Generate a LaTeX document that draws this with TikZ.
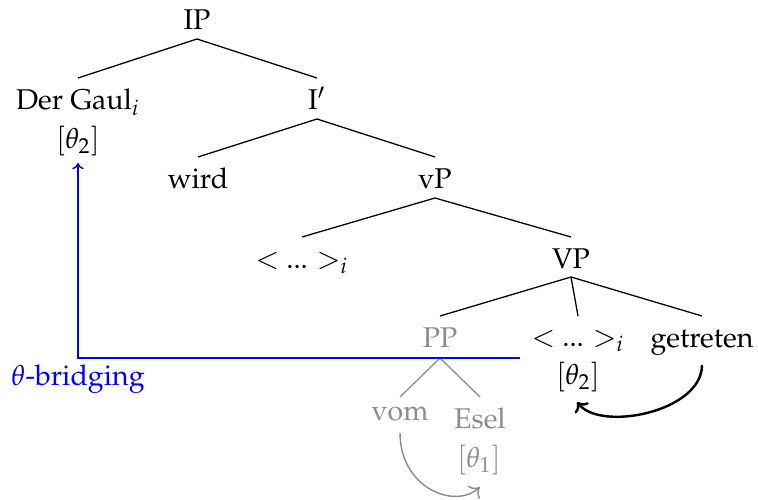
\documentclass[tikz,border=0pt]{standalone}
\usepackage[T1]{fontenc}
\usepackage{mathpazo}
\usetikzlibrary{arrows.meta}
\newcommand\tedge[5][edge]{\draw[#1] ([yshift=#3]#2.base) -- ([yshift=#5]#4.base);}
\begin{document}
\begin{tikzpicture}[x=0.35pt,y=-0.35pt,
  cat/.style={inner sep=0pt,anchor=base,font=\fontsize{10}{12}\selectfont},
  gcat/.style={cat,text=black!45},
  edge/.style={draw=black,line width=0.45pt},
  gedge/.style={draw=black!45,line width=0.45pt},
  bridge/.style={draw=blue,line width=0.5pt,-{To[length=2.2pt,width=4pt]}},
  arc/.style={draw=black,line width=0.85pt,-{To[length=3pt,width=6pt]}},
  garc/.style={draw=black!45,line width=0.5pt,-{To[length=3pt,width=6pt]}}]
\useasboundingbox (0,0) rectangle (758,499);
% nodes (placed on their baselines)
\node[cat] (IP) at (197,30) {IP};
\node[cat] (DG) at (78,110) {Der Gaul\(_i\)};
\node[cat] (DGt) at (78,148) {\([\theta_2]\)};
\node[cat] (Ibar) at (317,110) {I\('\)};
\node[cat] (wird) at (198,188) {wird};
\node[cat] (vP) at (435,188) {vP};
\node[cat] (tr1) at (302,268) {\(<\) ... \(>_i\)};
\node[cat] (VP) at (571,268) {VP};
\node[gcat] (PP) at (440,347) {PP};
\node[cat] (tr2) at (578,346) {\(<\) ... \(>_i\)};
\node[cat] (tr2t) at (578,384) {\([\theta_2]\)};
\node[cat] (get) at (702,347) {getreten};
\node[gcat] (vom) at (400,420) {vom};
\node[gcat] (Esel) at (480,428) {Esel};
\node[gcat] (Eselt) at (479,467) {\([\theta_1]\)};
\node[cat,text=blue] (tb) at (78,385) {\(\theta\)-bridging};
% tree edges
\tedge{IP}{-3.15pt}{DG}{11.2pt}
\tedge{IP}{-3.15pt}{Ibar}{11.2pt}
\tedge{Ibar}{-3.15pt}{wird}{10.85pt}
\tedge{Ibar}{-3.15pt}{vP}{10.85pt}
\tedge{vP}{-3.5pt}{tr1}{10.85pt}
\tedge{vP}{-3.5pt}{VP}{10.85pt}
\tedge{VP}{-3.15pt}{PP}{10.85pt}
\tedge{VP}{-3.15pt}{tr2}{10.5pt}
\tedge{VP}{-3.15pt}{get}{10.85pt}
\tedge[gedge]{PP}{-3.85pt}{vom}{8.05pt}
\tedge[gedge]{PP}{-3.85pt}{Esel}{10.85pt}
% theta-bridging
\coordinate (bs) at (520,358);
\draw[bridge] (bs) -| ([yshift=-5.25pt]DGt.base);
% theta arcs
\draw[arc] ([yshift=-6.3pt]get.base) .. controls (702,412) and (600,432) .. ([xshift=-0.3pt,yshift=-6.3pt]tr2t.base);
\draw[garc] ([yshift=-4.5pt]vom.base) .. controls (400,488) and (455,510) .. ([xshift=0.3pt,yshift=-7pt]Eselt.base);
\end{tikzpicture}
\end{document}
